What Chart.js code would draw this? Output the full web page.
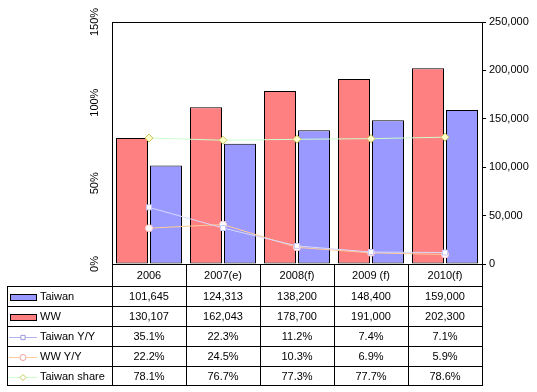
<!DOCTYPE html>
<html>
<head>
<meta charset="utf-8">
<script src="https://cdn.jsdelivr.net/npm/chart.js@4"></script>
<style>
  html, body { margin: 0; padding: 0; background: #fff; }
  #wrap { width: 537px; height: 392px; }
</style>
</head>
<body>
<div id="wrap"><canvas id="chart" width="537" height="392"></canvas></div>
<script>
const years = ['2006', '2007(e)', '2008(f)', '2009 (f)', '2010(f)'];
const taiwan = [101645, 124313, 138200, 148400, 159000];
const ww = [130107, 162043, 178700, 191000, 202300];
const taiwanYoY = [35.1, 22.3, 11.2, 7.4, 7.1];
const wwYoY = [22.2, 24.5, 10.3, 6.9, 5.9];
const taiwanShare = [78.1, 76.7, 77.3, 77.7, 78.6];

const FONT = '"Liberation Sans", Arial, sans-serif';

// rows of the data table under the plot
const tableRows = [
    {label: 'Taiwan', values: taiwan, kind: 'bar', fill: '#9999FF'},
    {label: 'WW', values: ww, kind: 'bar', fill: '#FF8080'},
    {label: 'Taiwan Y/Y', values: taiwanYoY, kind: 'line', line: '#B4B4EC', marker: 'rect', mark: '#9999DD'},
    {label: 'WW Y/Y', values: wwYoY, kind: 'line', line: '#FFCC99', marker: 'circle', mark: '#F0A0A0'},
    {label: 'Taiwan share', values: taiwanShare, kind: 'line', line: '#CCFFCC', marker: 'rectRot', mark: '#C8C860'}
];

const tablePlugin = {
    id: 'dataTable',
    afterDraw: (chart) => {
        const ctx = chart.ctx;
        const area = chart.chartArea;
        const x = chart.scales.x;
        const step = x.getPixelForValue(1) - x.getPixelForValue(0);
        const left = 7, rowH = 20, top = area.bottom + 22;
        ctx.save();
        // plot frame
        ctx.strokeStyle = '#000';
        ctx.lineWidth = 1;
        ctx.strokeRect(Math.round(area.left) + 0.5, Math.round(area.top) + 0.5,
            Math.round(area.right - area.left), Math.round(area.bottom - area.top));
        const bottom = top + rowH * tableRows.length - 1;
        ctx.beginPath();
        for (let i = 0; i <= years.length; i++) {
            const px = Math.round(x.getPixelForValue(i) - step / 2) + 0.5;
            ctx.moveTo(px, area.bottom);
            ctx.lineTo(px, bottom);
        }
        ctx.moveTo(left + 0.5, top);
        ctx.lineTo(left + 0.5, bottom);
        for (let r = 0; r <= tableRows.length; r++) {
            const py = Math.round(r === tableRows.length ? bottom : top + r * rowH) + 0.5;
            ctx.moveTo(left, py);
            ctx.lineTo(area.right + 1, py);
        }
        ctx.stroke();

        ctx.font = '11px ' + FONT;
        ctx.textBaseline = 'middle';
        tableRows.forEach((row, r) => {
            const cy = top + r * rowH + rowH / 2 + 0.5;
            const ly = Math.round(cy) + 0.5;
            if (row.kind === 'bar') {
                ctx.fillStyle = row.fill;
                ctx.fillRect(10.5, ly - 3, 26, 6);
                ctx.strokeStyle = '#000';
                ctx.strokeRect(10.5, ly - 3, 26, 6);
            } else {
                ctx.strokeStyle = row.line;
                ctx.beginPath();
                ctx.moveTo(9, ly);
                ctx.lineTo(37, ly);
                ctx.stroke();
                ctx.fillStyle = '#fff';
                ctx.strokeStyle = row.mark;
                Chart.helpers.drawPoint(ctx, {pointStyle: row.marker, radius: 3, borderWidth: 1}, 23, ly);
            }
            ctx.fillStyle = '#000';
            ctx.textAlign = 'left';
            ctx.fillText(row.label, 40, cy);
            ctx.textAlign = 'center';
            row.values.forEach((v, i) => {
                const txt = row.kind === 'bar' ? v.toLocaleString('en-US') : v.toFixed(1) + '%';
                ctx.fillText(txt, x.getPixelForValue(i), cy);
            });
        });
        ctx.restore();
    }
};

new Chart(document.getElementById('chart').getContext('2d'), {
    type: 'bar',
    data: {
        labels: years,
        datasets: [
            {label: 'WW', data: ww, yAxisID: 'y2', backgroundColor: '#FF8080', borderColor: '#000', borderWidth: 1, borderSkipped: false, order: 2},
            {label: 'Taiwan', data: taiwan, yAxisID: 'y2', backgroundColor: '#9999FF', borderColor: '#000', borderWidth: 1, borderSkipped: false, order: 2},
            {type: 'line', label: 'Taiwan Y/Y', data: taiwanYoY, yAxisID: 'y', borderColor: '#D8D8FF', borderWidth: 1,
                pointStyle: 'rect', pointRadius: 3.5, pointBackgroundColor: '#fff', pointBorderColor: '#C8C8F8', order: 1},
            {type: 'line', label: 'WW Y/Y', data: wwYoY, yAxisID: 'y', borderColor: '#FFCC99', borderWidth: 1,
                pointStyle: 'circle', pointRadius: 3.5, pointBackgroundColor: '#fff', pointBorderColor: '#FFC8C8', order: 1},
            {type: 'line', label: 'Taiwan share', data: taiwanShare, yAxisID: 'y', borderColor: '#CCFFCC', borderWidth: 1,
                pointStyle: 'rectRot', pointRadius: 4, pointBackgroundColor: '#FFFFCC', pointBorderColor: '#C8C860', order: 0}
        ]
    },
    options: {
        responsive: false,
        animation: false,
        layout: {padding: {top: 22, left: 0, right: 0, bottom: 0}},
        plugins: {legend: {display: false}, tooltip: {enabled: false}},
        // 74px per category: two 32px bars 2px apart, edges on whole pixels
        datasets: {bar: {categoryPercentage: 68 / 74, barPercentage: 32 / 34}},
        scales: {
            x: {
                grid: {display: false, drawTicks: false},
                border: {display: false},
                ticks: {color: '#000', font: {family: FONT, size: 11}, padding: 5, maxRotation: 0},
                afterFit: (s) => { s.height = 128; }
            },
            y: {
                position: 'left',
                min: 0, max: 150,
                grid: {display: false, drawTicks: false},
                border: {display: false},
                ticks: {
                    stepSize: 50, color: '#000', font: {family: FONT, size: 11},
                    minRotation: 90, maxRotation: 90, crossAlign: 'center', padding: 3,
                    callback: (v) => v + '%'
                },
                afterFit: (s) => { s.width = 112; }
            },
            y2: {
                position: 'right',
                min: 0, max: 250000,
                grid: {drawOnChartArea: false, tickLength: 4, color: '#000'},
                border: {display: false},
                ticks: {
                    stepSize: 50000, color: '#000', font: {family: FONT, size: 11}, padding: 3,
                    callback: (v) => v.toLocaleString('en-US')
                },
                afterFit: (s) => { s.width = 55; }
            }
        }
    },
    plugins: [tablePlugin]
});
</script>
</body>
</html>
